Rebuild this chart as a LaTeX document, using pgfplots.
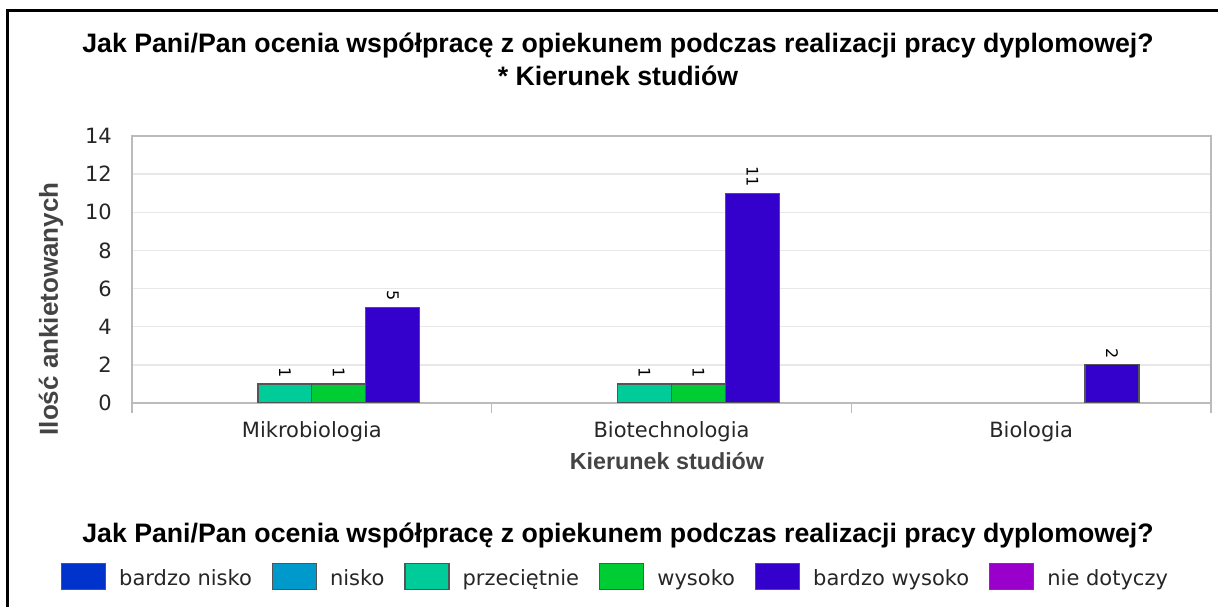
\documentclass[border=0pt]{standalone}
\usepackage{fontspec}
\setmainfont{DejaVu Sans}
\newfontfamily\arialf{Liberation Sans}
\usepackage{pgfplots}
\pgfplotsset{compat=1.18}

\definecolor{cbn}{HTML}{0033CC}
\definecolor{cn}{HTML}{0099CC}
\definecolor{cp}{HTML}{00CC99}
\definecolor{cw}{HTML}{00CC33}
\definecolor{cbw}{HTML}{3300CC}
\definecolor{cnd}{HTML}{9900CC}
\definecolor{barb}{HTML}{555555}
\definecolor{axgray}{HTML}{BBBBBB}
\definecolor{gridgray}{HTML}{E8E8E8}
\definecolor{labgray}{HTML}{444444}

% series values per category (Mikrobiologia=0, Biotechnologia=1, Biologia=2);
% each of the 6 answer bars occupies 0.15 of a category, so a series sits at its own offset
\pgfplotsset{
  legbox/.style={draw=barb, line width=1.2bp,
    legend image code/.code={\draw[##1] (0bp,-4bp) rectangle (44bp,22bp);}},
  mybar/.style={ybar, bar width=54bp, bar shift=0pt, draw=barb, line width=1.3bp, forget plot,
    nodes near coords,
    every node near coord/.append style={rotate=-90, anchor=east, inner sep=6bp,
      font=\fontsize{16bp}{18bp}\selectfont, text=black}},
}

\begin{document}
\begin{tikzpicture}[x=1bp,y=1bp]
\useasboundingbox (0,0) rectangle (1218,607);
\begin{axis}[
  at={(132bp,204bp)}, anchor=south west,
  scale only axis, width=1079bp, height=267bp,
  xmin=-0.5, xmax=2.5, ymin=0, ymax=14,
  xtick={0,1,2}, xticklabels={Mikrobiologia,Biotechnologia,Biologia},
  ytick={0,2,...,14},
  tick pos=left,
  major tick length=0pt,
  extra x ticks={-0.5,0.5,1.5,2.5}, extra x tick labels={},
  every extra x tick/.style={major tick length=10bp, tick align=outside},
  tick style={draw=axgray, line width=1.2bp},
  axis line style={draw=axgray, line width=1.2bp},
  ymajorgrids, grid style={draw=gridgray, line width=1.5bp},
  /pgf/number format/assume math mode=true,
  xticklabel style={font=\fontsize{21bp}{25bp}\selectfont, text=black!85, inner sep=0pt, yshift=-18bp},
  yticklabel style={font=\fontsize{21bp}{25bp}\selectfont, text=black!85, inner sep=0pt, xshift=-20bp},
  legend columns=6,
  legend style={at={(-0.0658,-0.6498)}, anchor=west, draw=none, fill=none,
    inner sep=0pt, outer sep=0pt, column sep=0pt,
    cells={anchor=base west},
    nodes={inner sep=0pt, text depth=0.25em, font=\fontsize{21bp}{25bp}\selectfont, text=black!85},
    /tikz/every odd column/.append style={column sep=13bp},
    /tikz/every even column/.append style={column sep=20bp}},
]
\addlegendimage{legbox, fill=cbn}\addlegendentry{bardzo nisko}
\addlegendimage{legbox, fill=cn}\addlegendentry{nisko}
\addlegendimage{legbox, fill=cp}\addlegendentry{przeciętnie}
\addlegendimage{legbox, fill=cw}\addlegendentry{wysoko}
\addlegendimage{legbox, fill=cbw}\addlegendentry{bardzo wysoko}
\addlegendimage{legbox, fill=cnd}\addlegendentry{nie dotyczy}

% przeciętnie (offset -0.075)
\addplot[mybar, fill=cp] coordinates {(-0.075,1) (0.925,1)};
% wysoko (offset +0.075)
\addplot[mybar, fill=cw] coordinates {(0.075,1) (1.075,1)};
% bardzo wysoko (offset +0.225)
\addplot[mybar, fill=cbw] coordinates {(0.225,5) (1.225,11) (2.225,2)};
\end{axis}

\node[anchor=base, font=\fontsize{26.7bp}{30bp}\arialf\bfseries] at (618,554)
  {Jak Pani/Pan ocenia współpracę z opiekunem podczas realizacji pracy dyplomowej?};
\node[anchor=base, font=\fontsize{26.7bp}{30bp}\arialf\bfseries] at (618,521)
  {* Kierunek studiów};
\node[anchor=base, font=\fontsize{26.7bp}{30bp}\arialf\bfseries] at (618,64)
  {Jak Pani/Pan ocenia współpracę z opiekunem podczas realizacji pracy dyplomowej?};
\node[rotate=90, font=\fontsize{26bp}{30bp}\arialf\bfseries, text=labgray] at (51,298)
  {Ilość ankietowanych};
\node[anchor=base, font=\fontsize{23.3bp}{27bp}\arialf\bfseries, text=labgray] at (667,137)
  {Kierunek studiów};

\draw[line width=3bp] (7.5,0) -- (7.5,596.5) -- (1218,596.5);
\end{tikzpicture}
\end{document}
